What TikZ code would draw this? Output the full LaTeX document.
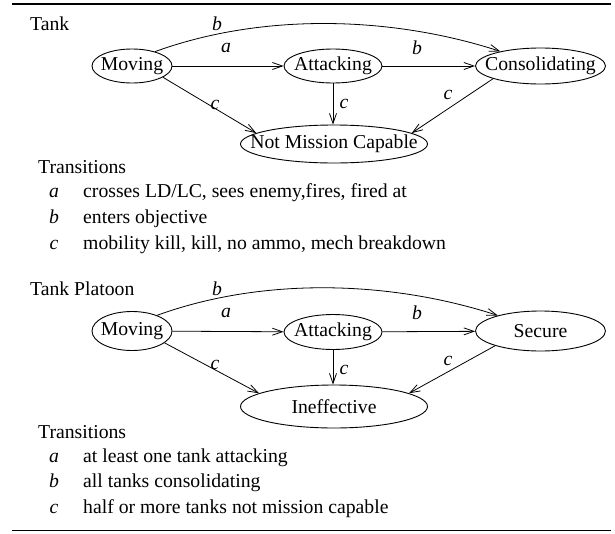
\documentclass[tikz,border=0pt]{standalone}
\usepackage{fontspec}
\setmainfont{Liberation Serif}
\usetikzlibrary{shapes.geometric,arrows.meta}
\newcommand{\bigfs}{\fontsize{19.7}{23}\selectfont}
\tikzset{
  st/.style={draw, ellipse, inner sep=0pt, line width=0.9pt},
  arr/.style={line width=0.8pt, -{Straight Barb[length=10pt,width=7pt,line width=0.8pt]}},
  lbl/.style={inner sep=0pt, font=\bigfs\itshape},
  txt/.style={inner sep=0pt, anchor=base west, font=\bigfs},
  item/.style={inner sep=0pt, anchor=base, font=\bigfs\itshape},
  every label/.style={font=\bigfs},
}
\begin{document}
\begin{tikzpicture}[x=1pt,y=-1pt,font=\bigfs]
\useasboundingbox (0,0) rectangle (615,533);
\coordinate (r1a) at (12,3.5); \coordinate (r1b) at (611,3.5);
\draw[line width=2pt] (r1a) -- (r1b);
\coordinate (r2a) at (12,530.5); \coordinate (r2b) at (611,530.5);
\draw[line width=1.3pt] (r2a) -- (r2b);

% ---------- Tank ----------
\node[txt] (t1) at (30,30.7) {Tank};
\node[st, minimum width=80pt, minimum height=34pt, label=center:{Moving}] (mov) at (132,66) {};
\node[st, minimum width=98pt, minimum height=34pt, label=center:{Attacking}] (att) at (333,66) {};
\node[st, minimum width=130pt, minimum height=36pt, label=center:{Consolidating}] (con) at (540.5,66) {};
\node[st, minimum width=187pt, minimum height=38pt, label=center:{Not Mission Capable}] (nmc) at (334,144) {};

\draw[arr] (mov) -- (att) node[lbl] (la) at (226,48) {a};
\draw[arr] (att) -- (con) node[lbl] (lb) at (417,48) {b};
\draw[arr] (mov.32) to[out=20,in=162,looseness=0.85] (con.160) node[lbl] (lb2) at (217,24) {b};
\draw[arr] (mov.-20) -- (nmc.172) node[lbl] (lc1) at (215,105) {c};
\draw[arr] (att) -- (nmc.north -| att) node[lbl] (lc2) at (344,104) {c};
\draw[arr] (con.-165) -- (nmc.8) node[lbl] (lc3) at (448,95) {c};

\node[txt] (tr1) at (38,173) {Transitions};
\node[item] (ia1) at (54,197.5) {a};
\node[txt] (ta1) at (83,197.5) {crosses LD/LC, sees enemy,fires, fired at};
\node[item] (ib1) at (54,223) {b};
\node[txt] (tb1) at (83,223) {enters objective};
\node[item] (ic1) at (54,249) {c};
\node[txt] (tc1) at (83,249) {mobility kill, kill, no ammo, mech breakdown};

% ---------- Tank Platoon ----------
\node[txt] (t2) at (30,295.7) {Tank Platoon};
\node[st, minimum width=80pt, minimum height=39pt, label=center:{Moving}] (mov2) at (132,331) {};
\node[st, minimum width=98pt, minimum height=35pt, label=center:{Attacking}] (att2) at (333,332) {};
\node[st, minimum width=130pt, minimum height=40pt, label=center:{Secure}] (sec) at (540.5,331) {};
\node[st, minimum width=187pt, minimum height=43pt, label=center:{Ineffective}] (ine) at (334,406.5) {};

\draw[arr] (mov2) -- (att2) node[lbl] (la2) at (226,313) {a};
\draw[arr] (att2) -- (sec) node[lbl] (lb3) at (417,313) {b};
\draw[arr] (mov2.32) to[out=20,in=162,looseness=0.85] (sec.160) node[lbl] (lb4) at (217,289) {b};
\draw[arr] (mov2.-20) -- (ine.170) node[lbl] (lc4) at (215,365) {c};
\draw[arr] (att2) -- (ine.north -| att2) node[lbl] (lc5) at (344,370) {c};
\draw[arr] (sec.-162) -- (ine.10) node[lbl] (lc6) at (448,361) {c};

\node[txt] (tr2) at (38,438) {Transitions};
\node[item] (ia2) at (54,462) {a};
\node[txt] (ta2) at (83,462) {at least one tank attacking};
\node[item] (ib2) at (54,487.5) {b};
\node[txt] (tb2) at (83,487.5) {all tanks consolidating};
\node[item] (ic2) at (54,513) {c};
\node[txt] (tc2) at (83,513) {half or more tanks not mission capable};
\end{tikzpicture}
\end{document}
